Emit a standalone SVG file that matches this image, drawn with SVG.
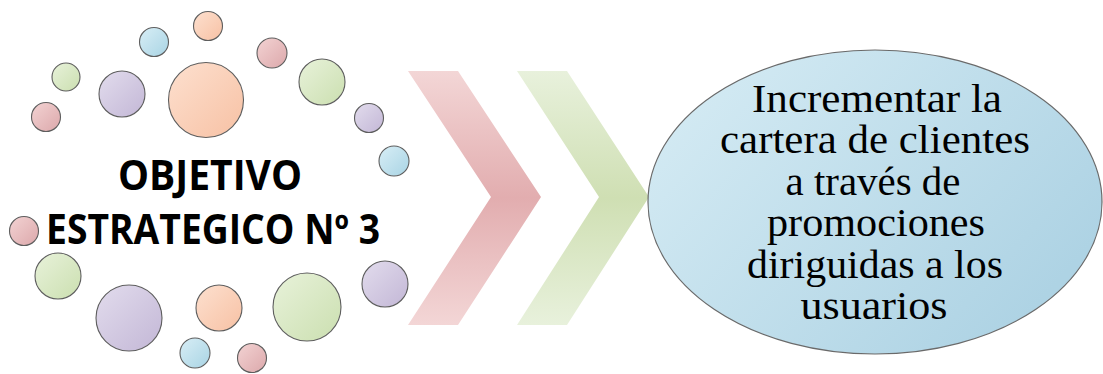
<svg xmlns="http://www.w3.org/2000/svg" width="1103" height="374" viewBox="0 0 1103 374">
  <defs>
    <linearGradient id="gOrange" x1="0" y1="0" x2="1" y2="1">
      <stop offset="0" stop-color="#fde0cf"/>
      <stop offset="1" stop-color="#f7c1a4"/>
    </linearGradient>
    <linearGradient id="gBlue" x1="0" y1="0" x2="1" y2="1">
      <stop offset="0" stop-color="#d8eef6"/>
      <stop offset="1" stop-color="#a9d4e4"/>
    </linearGradient>
    <linearGradient id="gRed" x1="0" y1="0" x2="1" y2="1">
      <stop offset="0" stop-color="#f3d3d3"/>
      <stop offset="1" stop-color="#dca8ab"/>
    </linearGradient>
    <linearGradient id="gGreen" x1="0" y1="0" x2="1" y2="1">
      <stop offset="0" stop-color="#e8f2da"/>
      <stop offset="1" stop-color="#cbdfb0"/>
    </linearGradient>
    <linearGradient id="gPurple" x1="0" y1="0" x2="1" y2="1">
      <stop offset="0" stop-color="#e2dced"/>
      <stop offset="1" stop-color="#c3b7d6"/>
    </linearGradient>
    <linearGradient id="gChevRed" x1="0" y1="0" x2="0" y2="1">
      <stop offset="0" stop-color="#f3d6d6"/>
      <stop offset="0.5" stop-color="#e2adaf"/>
      <stop offset="1" stop-color="#f3d6d6"/>
    </linearGradient>
    <linearGradient id="gChevGreen" x1="0" y1="0" x2="0" y2="1">
      <stop offset="0" stop-color="#e8f1dc"/>
      <stop offset="0.5" stop-color="#cfdfb3"/>
      <stop offset="1" stop-color="#e8f1dc"/>
    </linearGradient>
    <linearGradient id="gEllipse" x1="0" y1="0" x2="1" y2="0.6">
      <stop offset="0" stop-color="#d8edf5"/>
      <stop offset="1" stop-color="#aed3e4"/>
    </linearGradient>
  </defs>
  <style>
    .dot { stroke: #5e5e5e; stroke-width: 1.1; }
    .title { font-family: "Open Sans", "Liberation Sans", sans-serif; font-weight: 700; font-size: 41px; fill: #000; }
    .goal { font-family: "Liberation Serif", "DejaVu Serif", serif; font-size: 41px; fill: #000; }
  </style>

  <rect width="1103" height="374" fill="#ffffff"/>

  <!-- ring of bubbles around the objective title -->
  <g id="objective">
    <circle class="dot" cx="208" cy="26" r="14.5" fill="url(#gOrange)"/>
    <circle class="dot" cx="154" cy="42" r="14.5" fill="url(#gBlue)"/>
    <circle class="dot" cx="272" cy="53" r="15" fill="url(#gRed)"/>
    <circle class="dot" cx="66" cy="77" r="14" fill="url(#gGreen)"/>
    <circle class="dot" cx="122" cy="94" r="23" fill="url(#gPurple)"/>
    <circle class="dot" cx="206" cy="100" r="37.5" fill="url(#gOrange)"/>
    <circle class="dot" cx="322" cy="82" r="23" fill="url(#gGreen)"/>
    <circle class="dot" cx="46" cy="117" r="14.5" fill="url(#gRed)"/>
    <circle class="dot" cx="369" cy="118" r="14.5" fill="url(#gPurple)"/>
    <circle class="dot" cx="394" cy="161" r="15" fill="url(#gBlue)"/>
    <circle class="dot" cx="24" cy="231" r="14.5" fill="url(#gRed)"/>
    <circle class="dot" cx="58" cy="276" r="23" fill="url(#gGreen)"/>
    <circle class="dot" cx="129" cy="318" r="33" fill="url(#gPurple)"/>
    <circle class="dot" cx="219" cy="308" r="23" fill="url(#gOrange)"/>
    <circle class="dot" cx="307" cy="307" r="34" fill="url(#gGreen)"/>
    <circle class="dot" cx="385" cy="284" r="23" fill="url(#gPurple)"/>
    <circle class="dot" cx="195" cy="353" r="15" fill="url(#gBlue)"/>
    <circle class="dot" cx="252" cy="358" r="14.5" fill="url(#gRed)"/>
    <text class="title" x="210" y="190" text-anchor="middle" textLength="184" lengthAdjust="spacingAndGlyphs">OBJETIVO</text>
    <text class="title" x="213" y="244" text-anchor="middle" textLength="334" lengthAdjust="spacingAndGlyphs">ESTRATEGICO Nº 3</text>
  </g>

  <!-- chevron connectors -->
  <g id="connectors">
    <polygon points="408,71 458,71 541,197 458,325 408,325 491,197" fill="url(#gChevRed)"/>
    <polygon points="517,71 567,71 649,197 567,325 517,325 599,197" fill="url(#gChevGreen)"/>
  </g>

  <!-- goal ellipse -->
  <g id="goal">
    <ellipse cx="875" cy="202" rx="227" ry="152" fill="url(#gEllipse)" stroke="#6a6a6a" stroke-width="1.2"/>
    <text class="goal" x="877" y="112" text-anchor="middle" textLength="250" lengthAdjust="spacingAndGlyphs">Incrementar la</text>
    <text class="goal" x="875" y="153" text-anchor="middle" textLength="310" lengthAdjust="spacingAndGlyphs">cartera de clientes</text>
    <text class="goal" x="873" y="195" text-anchor="middle" textLength="175" lengthAdjust="spacingAndGlyphs">a través de</text>
    <text class="goal" x="876" y="236" text-anchor="middle" textLength="218" lengthAdjust="spacingAndGlyphs">promociones</text>
    <text class="goal" x="875" y="278" text-anchor="middle" textLength="256" lengthAdjust="spacingAndGlyphs">diriguidas a los</text>
    <text class="goal" x="874" y="319" text-anchor="middle" textLength="147" lengthAdjust="spacingAndGlyphs">usuarios</text>
  </g>
</svg>
